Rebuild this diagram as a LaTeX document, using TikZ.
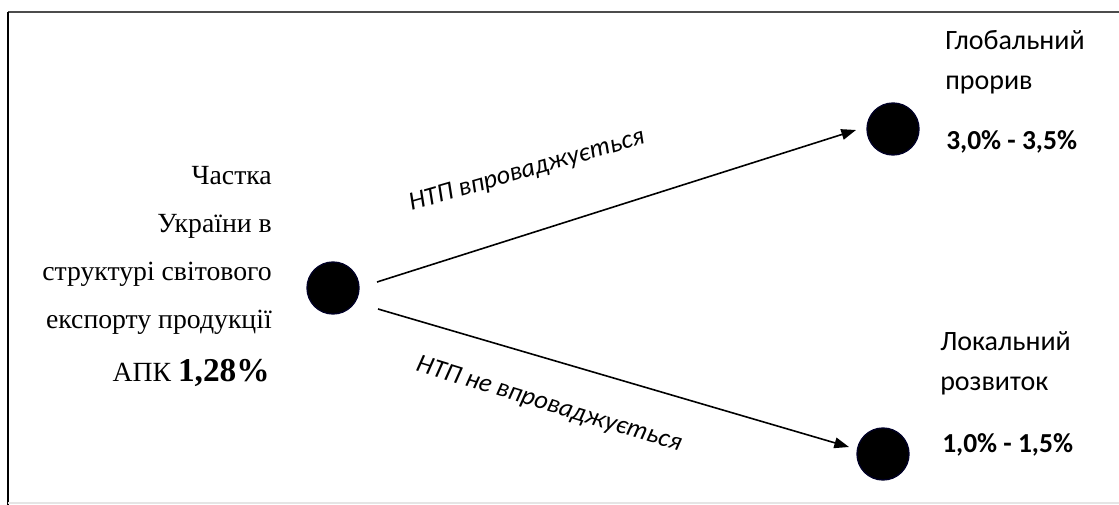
\documentclass[tikz,border=0pt]{standalone}
\usepackage{fontspec}
\setmainfont{Liberation Serif}
\newfontfamily\calib{Carlito}
\usetikzlibrary{arrows.meta}
\begin{document}
\begin{tikzpicture}[x=0.75pt,y=-0.75pt,
  dot/.style={circle,fill=black,draw=black!85!blue,line width=1pt,minimum size=39pt,inner sep=0pt},
  arr/.style={line width=1.2pt,-{Triangle[length=11pt,width=8pt]}},
  lefttxt/.style={anchor=base east,inner sep=0pt,font=\fontsize{20.8pt}{24pt}\selectfont},
  righttxt/.style={anchor=base west,inner sep=0pt,font=\calib\fontsize{21pt}{24pt}\selectfont},
  rightnum/.style={anchor=base west,inner sep=0pt,font=\calib\bfseries\fontsize{20.6pt}{24pt}\selectfont},
  lbl/.style={inner sep=0pt,font=\calib\itshape\fontsize{19.6pt}{23pt}\selectfont}]
\useasboundingbox (0,0) rectangle (1119,505);
% frame
\draw[black!70,line width=1.2pt] (8,12) -- (1119,12);
\draw[black,line width=1.8pt] (8,12) -- (8,505);
\draw[black!10,line width=1pt] (8,503) -- (1119,503);
% dots
\node[dot] (src) at (333,288) {};
\node[dot] (glob) at (893,129) {};
\node[dot] (loc) at (883,454) {};
% arrows
\coordinate (a1) at (377,282);
\coordinate (b1) at (856,130);
\coordinate (a2) at (378,309);
\coordinate (b2) at (849,447);
\draw[arr] (a1) -- (b1);
\draw[arr] (a2) -- (b2);
% labels on arrows
\node[lbl,rotate=16] (l1) at (527,171) {НТП впроваджується};
\node[lbl,rotate=-17] (l2) at (549,405) {НТП не впроваджується};
% left text
\node[lefttxt] (t1) at (272,185) {Частка};
\node[lefttxt] (t2) at (272,233) {України в};
\node[lefttxt] (t3) at (272,281) {структурі світового};
\node[lefttxt] (t4) at (272,329) {експорту продукції};
\node[lefttxt] (t5) at (270,381) {АПК {\bfseries\fontsize{25pt}{28pt}\selectfont 1,28\%}};
% right texts
\node[righttxt] (g1) at (945,50) {Глобальний};
\node[righttxt] (g2) at (945,90) {прорив};
\node[rightnum] (g3) at (946,150) {3,0\% - 3,5\%};
\node[righttxt] (r1) at (940,350) {Локальний};
\node[righttxt] (r2) at (940,390) {розвиток};
\node[rightnum] (r3) at (942,452) {1,0\% - 1,5\%};
\end{tikzpicture}
\end{document}
